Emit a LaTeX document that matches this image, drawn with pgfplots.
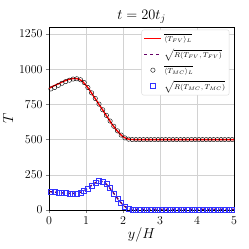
\documentclass[border=0pt]{standalone}
\usepackage{pgfplots}
\pgfplotsset{compat=1.18}
\begin{document}
\begin{tikzpicture}
\begin{axis}[
  scale only axis,
  width=185pt, height=183pt,
  xmin=0, xmax=5, ymin=0, ymax=1300,
  xtick={0,1,2,3,4,5},
  ytick={0,250,500,750,1000,1250},
  /pgf/number format/1000 sep={},
  tick label style={font=\large},
  tick align=outside, tick pos=left,
  major tick length=3pt,
  grid=major, major grid style={gray!35, line width=0.5pt},
  title={$t = 20t_j$}, title style={font=\Large, yshift=-6pt},
  xlabel={$y/H$}, ylabel={$T$},
  xlabel style={font=\Large, yshift=3pt}, ylabel style={font=\Large, yshift=-1pt},
  legend style={at={(0.975,0.985)}, anchor=north east, font=\scriptsize, draw=gray!30, rounded corners=2pt, row sep=2.5pt, inner sep=2pt},
  legend cell align=left,
]
\addplot[red, line width=1.4pt] coordinates {
(0,865)(0.1,878)(0.2,890)(0.3,902)(0.4,915)(0.5,925)(0.6,932)(0.7,935)(0.8,930)(0.9,915)(1.0,885)(1.1,850)(1.2,810)(1.3,770)(1.4,730)(1.5,690)(1.6,650)(1.7,610)(1.8,575)(1.9,545)(2.0,520)(2.1,506)(2.2,501)(2.3,500)(2.5,500)(3,500)(3.5,500)(4,500)(4.5,500)(5,500)};
\addlegendentry{$\overline{\langle T_{FV}\rangle_L}$}
\addplot[violet!80!black, line width=1.4pt, dashed] coordinates {
(0,130)(0.1,128)(0.2,125)(0.3,122)(0.4,120)(0.5,118)(0.6,117)(0.7,118)(0.8,122)(0.9,130)(1.0,145)(1.1,165)(1.2,185)(1.3,200)(1.4,205)(1.5,195)(1.6,170)(1.7,135)(1.8,100)(1.9,65)(2.0,35)(2.1,15)(2.2,6)(2.3,4)(2.5,4)(3,4)(3.5,4)(4,4)(4.5,4)(5,4)};
\addlegendentry{$\sqrt{R(T_{FV},T_{FV})}$}
\addplot[only marks, mark=o, mark size=2.2pt, black, thin] coordinates {
(0.05,860)(0.15,870)(0.25,885)(0.35,900)(0.45,912)(0.55,922)(0.65,930)(0.75,932)(0.85,925)(0.95,905)(1.05,870)(1.15,832)(1.25,792)(1.35,752)(1.45,712)(1.55,672)(1.65,632)(1.75,595)(1.85,562)(1.95,532)(2.05,512)(2.15,503)(2.25,500)(2.35,500)(2.45,500)(2.55,500)(2.65,500)(2.75,500)(2.85,500)(2.95,500)(3.05,500)(3.15,500)(3.25,500)(3.35,500)(3.45,500)(3.55,500)(3.65,500)(3.75,500)(3.85,500)(3.95,500)(4.05,500)(4.15,500)(4.25,500)(4.35,500)(4.45,500)(4.55,500)(4.65,500)(4.75,500)(4.85,500)(4.95,500)};
\addlegendentry{$\overline{\langle T_{MC}\rangle_L}$}
\addplot[only marks, mark=square, mark size=2.5pt, blue!80, thin] coordinates {
(0.05,130)(0.15,128)(0.25,124)(0.35,121)(0.45,119)(0.55,117)(0.65,116)(0.75,118)(0.85,124)(0.95,134)(1.05,152)(1.15,172)(1.25,192)(1.35,205)(1.45,200)(1.55,184)(1.65,155)(1.75,118)(1.85,82)(1.95,48)(2.05,22)(2.15,9)(2.25,5)(2.35,4)(2.45,4)(2.55,4)(2.65,4)(2.75,4)(2.85,4)(2.95,4)(3.05,4)(3.15,4)(3.25,4)(3.35,4)(3.45,4)(3.55,4)(3.65,4)(3.75,4)(3.85,4)(3.95,4)(4.05,4)(4.15,4)(4.25,4)(4.35,4)(4.45,4)(4.55,4)(4.65,4)(4.75,4)(4.85,4)(4.95,4)};
\addlegendentry{$\sqrt{R(T_{MC},T_{MC})}$}
\end{axis}
\path ([xshift=-49pt,yshift=-39pt]current axis.south west) rectangle ([xshift=15pt,yshift=27pt]current axis.north east);
\end{tikzpicture}
\end{document}
